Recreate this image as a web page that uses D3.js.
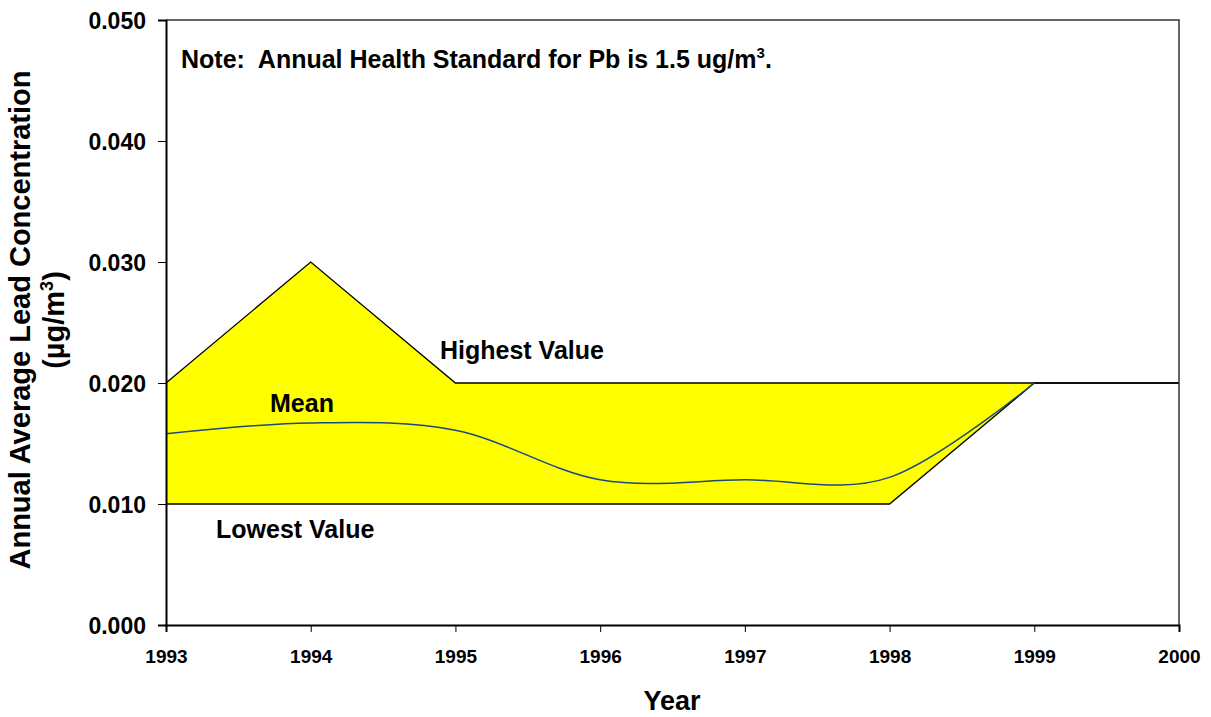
<!DOCTYPE html>
<html>
<head>
<meta charset="utf-8">
<script src="https://cdn.jsdelivr.net/npm/d3@7"></script>
<style>
body { margin: 0; background: #fff; }
text { font-family: "Liberation Sans", Arial, sans-serif; font-weight: bold; white-space: pre; }
</style>
</head>
<body>
<script>
var w = 1211, h = 717;

// data
var years = [1993, 1994, 1995, 1996, 1997, 1998, 1999, 2000];
var highest = [0.020, 0.030, 0.020, 0.020, 0.020, 0.020, 0.020, 0.020];
var lowest = [0.010, 0.010, 0.010, 0.010, 0.010, 0.010, 0.020, 0.020];
var meanYears = [1993, 1994, 1995, 1996, 1997, 1998, 1999];
var mean = [0.0158, 0.0167, 0.0161, 0.0120, 0.0120, 0.0122, 0.020];
var yTicks = [0, 0.01, 0.02, 0.03, 0.04, 0.05];

var mLeft = 166, mRight = 1179, mTop = 20, mBottom = 625;

var svg = d3.select("body")
    .append("svg")
    .attr("width", w)
    .attr("height", h);

var xScale = d3.scaleLinear()
    .domain([1993, 2000])
    .range([mLeft, mRight]);

var yScale = d3.scaleLinear()
    .domain([0, 0.05])
    .range([mBottom, mTop]);

// filled band between highest and lowest (only where they differ)
var band = years.map((y, i) => ({x: y, hi: highest[i], lo: lowest[i]})).filter(d => d.x <= 1999);

svg.append("path")
    .datum(band)
    .attr("fill", "#ffff00")
    .attr("stroke", "none")
    .attr("d", d3.area()
        .x(d => xScale(d.x))
        .y0(d => yScale(d.lo))
        .y1(d => yScale(d.hi)));

var line = d3.line()
    .x(d => xScale(d[0]))
    .y(d => yScale(d[1]));

svg.append("path")
    .datum(years.map((y, i) => [y, highest[i]]))
    .attr("fill", "none")
    .attr("stroke", "#000")
    .attr("stroke-width", 1.3)
    .attr("d", line);

svg.append("path")
    .datum(years.map((y, i) => [y, lowest[i]]))
    .attr("fill", "none")
    .attr("stroke", "#000")
    .attr("stroke-width", 1.3)
    .attr("d", line);

svg.append("path")
    .datum(meanYears.map((y, i) => [y, mean[i]]))
    .attr("fill", "none")
    .attr("stroke", "#1a4a78")
    .attr("stroke-width", 1.5)
    .attr("d", d3.line()
        .curve(d3.curveCardinal.tension(0))
        .x(d => xScale(d[0]))
        .y(d => yScale(d[1])));

// frame (top and right)
svg.append("path")
    .attr("fill", "none")
    .attr("stroke", "#333")
    .attr("stroke-width", 1.5)
    .attr("d", "M" + mLeft + "," + mTop + "H" + mRight + "V" + mBottom);

// axes
var yAxis = d3.axisLeft(yScale)
    .tickValues(yTicks)
    .tickSize(8)
    .tickPadding(12)
    .tickFormat(d3.format(".3f"));

var gy = svg.append("g")
    .attr("transform", "translate(" + mLeft + ",0)")
    .call(yAxis);
gy.select(".domain").attr("stroke-width", 2);
gy.selectAll("text").style("font-size", "23px").attr("dy", "0.35em");

var xAxis = d3.axisBottom(xScale)
    .tickValues(years)
    .tickSize(7)
    .tickPadding(18)
    .tickFormat(d3.format("d"));

var gx = svg.append("g")
    .attr("transform", "translate(0," + mBottom + ")")
    .call(xAxis);
gx.select(".domain").attr("stroke-width", 2);
gx.selectAll("text").style("font-size", "19px");

// titles
svg.append("text")
    .attr("x", 672)
    .attr("y", 710)
    .attr("text-anchor", "middle")
    .style("font-size", "27px")
    .text("Year");

var yt = svg.append("text")
    .attr("transform", "translate(30,320) rotate(-90)")
    .attr("text-anchor", "middle")
    .style("font-size", "29px");
yt.append("tspan").attr("x", 0).attr("y", 0).text("Annual Average Lead Concentration");
var yt2 = svg.append("text")
    .attr("transform", "translate(64,320) rotate(-90)")
    .attr("text-anchor", "middle")
    .style("font-size", "29px");
yt2.append("tspan").text("(µg/m");
yt2.append("tspan").attr("dy", -11).style("font-size", "18px").text("3");
yt2.append("tspan").attr("dy", 11).text(")");

// annotations
var note = svg.append("text")
    .attr("x", 181)
    .attr("y", 68)
    .style("font-size", "25px");
note.append("tspan").text("Note:  Annual Health Standard for Pb is 1.5 ug/m");
note.append("tspan").attr("dy", -10).style("font-size", "15px").text("3");
note.append("tspan").attr("dy", 10).text(".");

svg.append("text").attr("x", 440).attr("y", 359).style("font-size", "25px").text("Highest Value");
svg.append("text").attr("x", 270).attr("y", 412).style("font-size", "25px").text("Mean");
svg.append("text").attr("x", 216).attr("y", 538).style("font-size", "25px").text("Lowest Value");
</script>
</body>
</html>
